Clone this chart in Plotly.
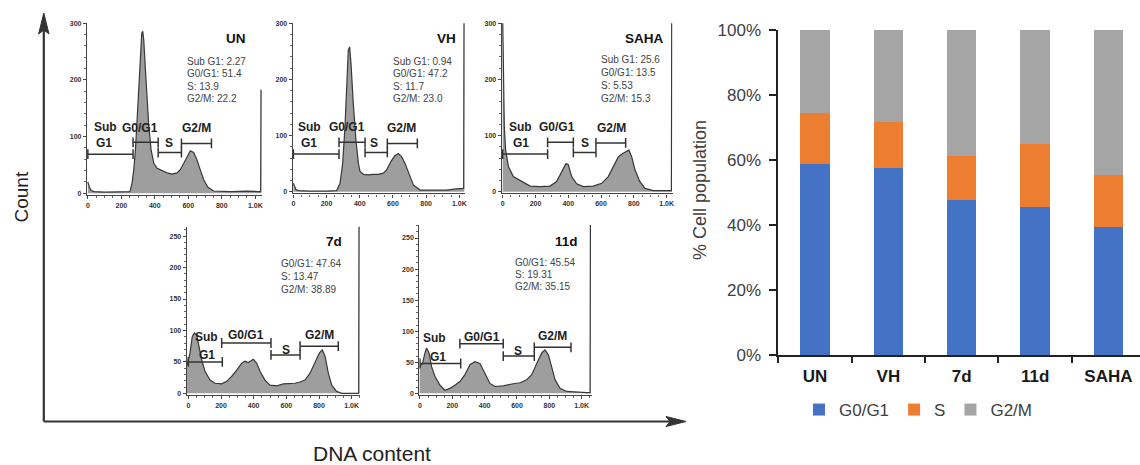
import plotly.graph_objects as go

W, H = 1140, 465
def px(x): return x / W
def py(y): return 1 - y / H

FONT = "Liberation Sans, Arial, sans-serif"

# ---------------- Stacked bar data ----------------
categories = ["UN", "VH", "7d", "11d", "SAHA"]
g0g1_pct = [58.7, 57.6, 47.6, 45.5, 39.3]
s_pct = [15.9, 14.2, 13.7, 19.5, 16.1]
g2m_pct = [25.4, 28.2, 38.7, 35.0, 44.6]
bar_ticks = [0, 20, 40, 60, 80, 100]
bar_ticktext = ["0%", "20%", "40%", "60%", "80%", "100%"]

# ---------------- Histogram data (DNA content vs count) ----------------
un_x = [0, 8, 20, 40, 100, 200, 250, 254, 264, 274, 284, 294, 304, 314, 322, 328, 334, 344, 354, 364, 378, 394, 414, 443, 473, 503, 533, 553, 573, 592, 612, 632, 652, 672, 692, 716, 751, 851, 950, 1020, 1032, 1034, 1036]
un_y = [20, 12, 5, 3, 2, 2, 3, 6, 18, 41, 76, 129, 194, 253, 282, 286, 270, 218, 159, 118, 76, 53, 44, 40, 36, 34, 36, 42, 53, 65, 75, 72, 59, 41, 24, 11, 4, 3, 4, 3, 3, 182, 182]

vh_x = [0, 6, 15, 30, 100, 200, 261, 281, 297, 311, 321, 331, 339, 347, 361, 377, 392, 402, 422, 452, 482, 512, 542, 562, 592, 612, 632, 653, 673, 703, 723, 763, 850, 924, 980, 1004, 1026, 1028, 1030]
vh_y = [15, 10, 4, 2, 1, 1, 2, 15, 50, 116, 193, 252, 258, 229, 157, 92, 50, 36, 31, 30, 31, 31, 33, 39, 56, 64, 68, 62, 50, 27, 12, 3, 3, 3, 5, 6, 6, 310, 310]

saha_x = [0, 4, 10, 18, 35, 65, 96, 126, 167, 228, 289, 329, 350, 370, 386, 400, 421, 451, 492, 553, 604, 644, 675, 705, 732, 750, 770, 787, 807, 837, 868, 919, 1010, 1029, 1031, 1033]
saha_y = [310, 205, 116, 74, 45, 27, 22, 16, 10, 9, 10, 18, 30, 43, 50, 48, 27, 14, 9, 10, 15, 27, 45, 62, 68, 71, 74, 62, 39, 18, 6, 2, 2, 2, 310, 310]

d7_x = [-8, 10, 24, 37, 51, 65, 82, 102, 133, 163, 204, 235, 265, 296, 327, 347, 367, 398, 418, 439, 469, 500, 541, 582, 622, 653, 684, 714, 745, 776, 802, 820, 837, 857, 878, 908, 939, 1000, 1043, 1045, 1047]
d7_y = [45, 64, 90, 96, 93, 74, 53, 35, 21, 16, 15, 19, 27, 37, 48, 51, 49, 54, 48, 35, 21, 13, 12, 15, 16, 16, 18, 21, 32, 51, 64, 69, 59, 32, 13, 3, 0, 0, 0, 270, 270]

d11_x = [-3, 16, 31, 41, 56, 72, 93, 124, 155, 186, 216, 247, 278, 309, 340, 371, 402, 433, 464, 515, 567, 619, 660, 691, 722, 753, 773, 794, 814, 835, 866, 907, 1031, 1052, 1054, 1056]
d11_y = [43, 48, 65, 73, 65, 43, 27, 13, 5, 8, 13, 19, 30, 46, 51, 48, 32, 16, 11, 12, 15, 17, 22, 30, 48, 65, 70, 62, 43, 22, 8, 3, 1, 1, 275, 275]

hist_xticks = [0, 200, 400, 600, 800, 1000]
hist_xticktext = ["0", "200", "400", "600", "800", "1.0K"]

# gate bars: (start, end, height) for Sub G1, G0/G1, S, G2/M
un_gates = [(0, 270, 69), (270, 420, 90), (420, 559, 72), (559, 738, 88)]
vh_gates = [(0, 275, 67), (275, 432, 88), (432, 566, 70), (566, 747, 86)]
saha_gates = [(0, 274, 67), (274, 431, 88), (431, 569, 70), (569, 750, 87)]
d7_gates = [(0, 208, 50), (204, 506, 80), (506, 684, 61), (684, 918, 75)]
d11_gates = [(0, 252, 48), (247, 515, 80), (515, 707, 60), (707, 934, 74)]

gate_names = ["Sub", "G1", "G0/G1", "S", "G2/M"]
un_gate_lbl = [(105, 117), (95, 88), (314, 116), (483, 88), (646, 116)]
vh_gate_lbl = [(96, 115), (96, 86), (321, 115), (488, 86), (653, 113)]
saha_gate_lbl = [(106, 115), (112, 86), (329, 115), (502, 86), (665, 113)]
d7_gate_lbl = [(112, 90), (112, 61), (353, 93), (598, 69), (806, 93)]
d11_gate_lbl = [(93, 89), (113, 59), (381, 91), (608, 68), (819, 93)]

un_stats = ["Sub G1: 2.27", "G0/G1: 51.4", "S: 13.9", "G2/M: 22.2"]
vh_stats = ["Sub G1: 0.94", "G0/G1: 47.2", "S: 11.7", "G2/M: 23.0"]
saha_stats = ["Sub G1: 25.6", "G0/G1: 13.5", "S: 5.53", "G2/M: 15.3"]
d7_stats = ["G0/G1: 47.64", "S: 13.47", "G2/M: 38.89"]
d11_stats = ["G0/G1: 45.54", "S: 19.31", "G2/M: 35.15"]

panels = [
    dict(name="UN", x=un_x, y=un_y, gates=un_gates, glbl=un_gate_lbl, stats=un_stats, sx=578,
         sy=[232, 211, 189, 168], npos=(885, 273), xr=[-5, 1040], yr=[-3, 300],
         yt=[0, 100, 200, 300], mdy=20, box=(87, 262, 23.3, 195.0)),
    dict(name="VH", x=vh_x, y=vh_y, gates=vh_gates, glbl=vh_gate_lbl, stats=vh_stats, sx=588,
         sy=[232, 211, 188, 166], npos=(924, 273), xr=[-4, 1034], yr=[-3, 300],
         yt=[0, 100, 200, 300], mdy=20, box=(292.7, 465, 23.3, 193.4)),
    dict(name="SAHA", x=saha_x, y=saha_y, gates=saha_gates, glbl=saha_gate_lbl, stats=saha_stats, sx=587,
         sy=[235, 212, 190, 166], npos=(862, 273), xr=[-6, 1037], yr=[-3, 300],
         yt=[0, 100, 200, 300], mdy=20, box=(501.7, 672.7, 23.3, 193.4)),
    dict(name="7d", x=d7_x, y=d7_y, gates=d7_gates, glbl=d7_gate_lbl, stats=d7_stats, sx=555,
         sy=[207, 186, 165], npos=(892, 242), xr=[-10, 1051], yr=[-3, 265],
         yt=[0, 50, 100, 150, 200, 250], mdy=10, box=(186.7, 360, 226.7, 395.2)),
    dict(name="11d", x=d11_x, y=d11_y, gates=d11_gates, glbl=d11_gate_lbl, stats=d11_stats, sx=573,
         sy=[210, 191, 172], npos=(907, 245), xr=[-4, 1062], yr=[-3, 271],
         yt=[0, 50, 100, 150, 200, 250], mdy=10, box=(419.3, 591.7, 225, 395.2)),
]

fig = go.Figure()

# ---------------- Bars ----------------
bar_colors = ["#4472C4", "#ED7D31", "#A5A5A5"]
for nm, vals, col in zip(["G0/G1", "S", "G2/M"], [g0g1_pct, s_pct, g2m_pct], bar_colors):
    fig.add_trace(go.Bar(x=categories, y=vals, name=nm, marker=dict(color=col, line=dict(width=0)),
                         width=0.4, xaxis="x", yaxis="y", hoverinfo="skip"))

layout = dict(
    width=W, height=H, margin=dict(l=0, r=0, t=0, b=0, pad=0, autoexpand=False),
    paper_bgcolor="white", plot_bgcolor="white",
    font=dict(family=FONT, color="#333"),
    barmode="stack", showlegend=True,
    legend=dict(orientation="h", x=px(799), xanchor="left", y=py(410), yanchor="middle",
                font=dict(size=17, color="#404040", family=FONT), traceorder="normal",
                bgcolor="rgba(0,0,0,0)", itemwidth=30),
    xaxis=dict(domain=[px(778.3), 1.0], type="category", range=[-0.5, 4.43],
               tickson="boundaries", ticks="outside", ticklen=6, tickwidth=1.5, tickcolor="#222",
               showline=True, linecolor="#222", linewidth=1.8, showgrid=False, zeroline=False,
               tickfont=dict(size=17, color="#1a1a1a", family=FONT, weight="bold"),
               ticklabelstandoff=5, ticklabeloverflow="allow", anchor="y", fixedrange=True,
               automargin=False),
    yaxis=dict(domain=[py(355), py(30)], range=[0, 100], tickvals=bar_ticks, ticktext=bar_ticktext,
               ticks="outside", ticklen=7, tickwidth=1.5, tickcolor="#222",
               showline=True, linecolor="#222", linewidth=1.8, showgrid=False, zeroline=False,
               tickfont=dict(size=17, color="#404040", family=FONT), ticklabelstandoff=5,
               anchor="x", fixedrange=True, automargin=False),
)

annotations = [
    dict(text="% Cell population", x=px(700), y=py(190), xref="paper", yref="paper",
         xanchor="center", yanchor="middle",
         textangle=-90, showarrow=False, font=dict(size=18, color="#404040", family=FONT)),
    dict(text="Count", x=px(21.5), y=py(197), xref="paper", yref="paper",
         xanchor="center", yanchor="middle",
         textangle=-90, showarrow=False, font=dict(size=19, color="#222", family=FONT)),
    dict(text="DNA content", x=px(372), y=py(453), xref="paper", yref="paper",
         xanchor="center", yanchor="middle",
         showarrow=False, font=dict(size=21, color="#222", family=FONT)),
]

# ---------------- Histogram panels ----------------
for i, p in enumerate(panels):
    n = i + 2
    xa, ya = f"x{n}", f"y{n}"
    l, r, t, b = p["box"]
    fig.add_trace(go.Scatter(x=p["x"], y=p["y"], mode="lines", fill="tozeroy",
                             fillcolor="#9e9e9e", line=dict(color="#383838", width=1.2),
                             xaxis=xa, yaxis=ya, showlegend=False, hoverinfo="skip"))
    for (g0, g1, gy) in p["gates"]:
        fig.add_trace(go.Scatter(x=[g0, g1], y=[gy, gy], mode="lines+markers",
                                 line=dict(color="#333", width=1.5),
                                 marker=dict(symbol="line-ns-open", size=7,
                                             line=dict(color="#333", width=1.5)),
                                 xaxis=xa, yaxis=ya, showlegend=False, hoverinfo="skip"))
    layout[f"xaxis{n}"] = dict(domain=[px(l), px(r)], range=p["xr"], anchor=ya,
                               tickvals=hist_xticks, ticktext=hist_xticktext,
                               ticks="outside", ticklen=3, tickcolor="#444", tickwidth=1,
                               showline=True, linecolor="#444", linewidth=1.2,
                               showgrid=False, zeroline=False, fixedrange=True, automargin=False,
                               minor=dict(tickmode="linear", tick0=0, dtick=50, ticks="outside",
                                          ticklen=2, tickcolor="#666", showgrid=False),
                               tickfont=dict(size=7, color="#333", family=FONT, weight="bold"))
    layout[f"yaxis{n}"] = dict(domain=[py(b), py(t)], range=p["yr"], anchor=xa,
                               tickvals=p["yt"], ticks="outside", ticklen=3, tickcolor="#444",
                               tickwidth=1, showline=True, linecolor="#444", linewidth=1.2,
                               showgrid=False, zeroline=False, fixedrange=True, automargin=False,
                               minor=dict(tickmode="linear", tick0=0, dtick=p["mdy"], ticks="outside",
                                          ticklen=2, tickcolor="#666", showgrid=False),
                               tickfont=dict(size=7, color="#333", family=FONT, weight="bold"))
    annotations.append(dict(text=f"<b>{p['name']}</b>", x=p["npos"][0], y=p["npos"][1],
                            xref=xa, yref=ya, showarrow=False, xanchor="center", yanchor="middle",
                            font=dict(size=13.5, color="#111", family=FONT)))
    for txt, sy in zip(p["stats"], p["sy"]):
        annotations.append(dict(text=txt, x=p["sx"], y=sy, xref=xa, yref=ya, xanchor="left",
                                yanchor="middle", showarrow=False,
                                font=dict(size=10, color="#444", family=FONT)))
    for nm, (gx, gy) in zip(gate_names, p["glbl"]):
        annotations.append(dict(text=f"<b>{nm}</b>", x=gx, y=gy, xref=xa, yref=ya,
                                xanchor="center", yanchor="middle", showarrow=False,
                                font=dict(size=12, color="#222", family=FONT)))

layout["annotations"] = annotations

# ---------------- Big arrow axes (decorative) ----------------
ax_col = "#333"
shapes = [
    dict(type="line", xref="paper", yref="paper", x0=px(43.8), y0=py(421.5), x1=px(43.8), y1=py(30),
         line=dict(color=ax_col, width=2.2)),
    dict(type="line", xref="paper", yref="paper", x0=px(43.8), y0=py(421.5), x1=px(670), y1=py(421.5),
         line=dict(color=ax_col, width=2.2)),
    dict(type="path", xref="paper", yref="paper", fillcolor=ax_col, line=dict(color=ax_col, width=1),
         path=f"M {px(43.8)},{py(13)} L {px(49)},{py(34)} L {px(43.8)},{py(30)} L {px(38.6)},{py(34)} Z"),
    dict(type="path", xref="paper", yref="paper", fillcolor=ax_col, line=dict(color=ax_col, width=1),
         path=f"M {px(686)},{py(421.5)} L {px(666)},{py(416.5)} L {px(670)},{py(421.5)} L {px(666)},{py(426.5)} Z"),
]
layout["shapes"] = shapes

fig.update_layout(**layout)
fig.write_html("out.html", config={"displayModeBar": False},
               post_script="document.body.style.margin='0';document.body.style.padding='0';")
